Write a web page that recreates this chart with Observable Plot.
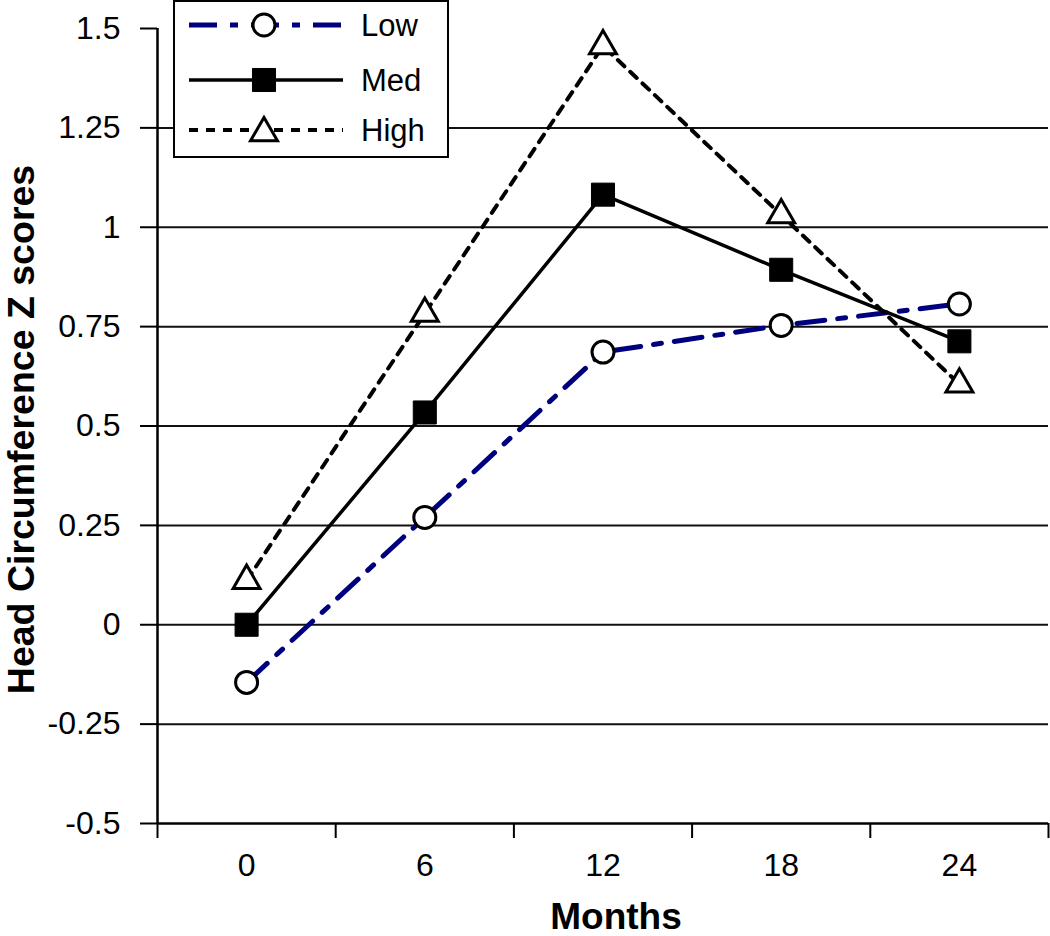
<!DOCTYPE html>
<html>
<head>
<meta charset="utf-8">
<script src="https://cdn.jsdelivr.net/npm/d3@7"></script>
<script src="https://cdn.jsdelivr.net/npm/@observablehq/plot@0.6"></script>
<style>
  html, body { margin: 0; padding: 0; background: white; }
  #chart { position: relative; width: 1050px; height: 936px; }
</style>
</head>
<body>
<div id="chart"></div>
<script>
// ---- data ----
const months = [0, 6, 12, 18, 24];
const lowValues  = [-0.145, 0.27, 0.686, 0.753, 0.807];
const medValues  = [0.0, 0.534, 1.082, 0.893, 0.713];
const highValues = [0.111, 0.783, 1.456, 1.031, 0.605];
const seriesNames = ["Low", "Med", "High"];
const yTicks = [-0.5, -0.25, 0, 0.25, 0.5, 0.75, 1, 1.25, 1.5];
const gridValues = [-0.25, 0, 0.25, 0.5, 0.75, 1, 1.25];
const xBoundaries = [-3, 3, 9, 15, 21, 27];
const xTitle = "Months";
const yTitle = "Head Circumference Z scores";

const rows = (vals) => months.map((m, i) => ({month: m, value: vals[i]}));
const low = rows(lowValues), med = rows(medValues), high = rows(highValues);

const FONT = "'Liberation Sans', Arial, Helvetica, sans-serif";
const NAVY = "#00007f";

const styles = {
  Low:  {stroke: NAVY, strokeWidth: 5, dash: "28,13,8,13", symbol: "circle", r: 11, fill: "white"},
  Med:  {stroke: "black", strokeWidth: 3.5, dash: null, symbol: "square", r: 13, fill: "black"},
  High: {stroke: "black", strokeWidth: 4, dash: "9,8", symbol: "triangle", r: 10, fill: "white"}
};

const chart = Plot.plot({
  width: 1050,
  height: 936,
  marginLeft: 157,
  marginRight: 2,
  marginTop: 28,
  marginBottom: 113,
  x: {domain: [-3, 27]},
  y: {domain: [-0.5, 1.5]},
  style: {fontFamily: FONT, color: "black", background: "white"},
  marks: [
    Plot.ruleY(gridValues, {stroke: "#111", strokeWidth: 2}),
    Plot.axisY({ticks: yTicks, tickSize: 17, tickPadding: 20, tickFormat: d => String(d),
                fontSize: 32, label: null, strokeWidth: 2, strokeOpacity: 1}),
    Plot.axisX({ticks: xBoundaries, tickSize: 15, tickFormat: () => "", label: null,
                strokeWidth: 2, strokeOpacity: 1}),
    Plot.axisX({ticks: months, tickSize: 0, tickPadding: 30, fontSize: 32, label: null}),
    Plot.ruleX([-3], {stroke: "black", strokeWidth: 2.5}),
    Plot.ruleY([-0.5], {stroke: "black", strokeWidth: 2.5}),
    Plot.line(low,  {x: "month", y: "value", stroke: styles.Low.stroke, strokeWidth: styles.Low.strokeWidth, strokeDasharray: styles.Low.dash}),
    Plot.line(med,  {x: "month", y: "value", stroke: styles.Med.stroke, strokeWidth: styles.Med.strokeWidth}),
    Plot.line(high, {x: "month", y: "value", stroke: styles.High.stroke, strokeWidth: styles.High.strokeWidth, strokeDasharray: styles.High.dash}),
    Plot.dot(low,  {x: "month", y: "value", symbol: "circle", r: styles.Low.r, fill: "white", stroke: "black", strokeWidth: 3}),
    Plot.dot(med,  {x: "month", y: "value", symbol: "square", r: styles.Med.r, fill: "black", stroke: "black", strokeWidth: 1}),
    Plot.dot(high, {x: "month", y: "value", symbol: "triangle", r: styles.High.r, fill: "white", stroke: "black", strokeWidth: 3})
  ]
});

document.getElementById("chart").appendChild(chart);

// ---- titles and legend ----
const svg = d3.select(chart);
const ys = chart.scale("y");
const plotCenterY = (ys.apply(-0.5) + ys.apply(1.5)) / 2;

svg.append("text")
  .attr("transform", `translate(34,${plotCenterY + 4}) rotate(-90)`)
  .attr("text-anchor", "middle")
  .attr("font-family", FONT).attr("font-weight", "bold").attr("font-size", 37.5)
  .attr("fill", "black")
  .text(yTitle);

svg.append("text")
  .attr("x", 616).attr("y", 929)
  .attr("text-anchor", "middle")
  .attr("font-family", FONT).attr("font-weight", "bold").attr("font-size", 37)
  .attr("fill", "black")
  .text(xTitle);

const lg = svg.append("g");
lg.append("rect").attr("x", 174).attr("y", 1).attr("width", 274).attr("height", 156)
  .attr("fill", "white").attr("stroke", "black").attr("stroke-width", 2);
const rowY = [25, 80, 130];
seriesNames.forEach((name, i) => {
  const s = styles[name];
  const y = rowY[i];
  lg.append("line").attr("x1", 189).attr("x2", 343).attr("y1", y).attr("y2", y)
    .attr("stroke", s.stroke).attr("stroke-width", s.strokeWidth)
    .attr("stroke-dasharray", s.dash);
  const sym = d3.symbol().type(
    s.symbol === "circle" ? d3.symbolCircle : s.symbol === "square" ? d3.symbolSquare : d3.symbolTriangle
  ).size(Math.PI * s.r * s.r);
  const cy = s.symbol === "triangle" ? y + 3 : y;
  lg.append("path").attr("d", sym()).attr("transform", `translate(264,${cy})`)
    .attr("fill", s.fill).attr("stroke", "black").attr("stroke-width", s.symbol === "square" ? 1 : 3);
  lg.append("text").attr("x", 361).attr("y", y).attr("dy", "0.36em")
    .attr("text-anchor", "start")
    .attr("font-family", FONT).attr("font-size", 31).attr("fill", "black")
    .text(name);
});
</script>
</body>
</html>
